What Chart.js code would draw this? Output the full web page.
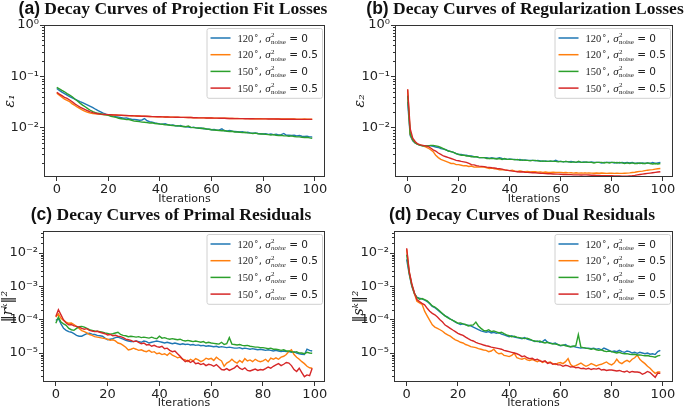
<!DOCTYPE html>
<html>
<head>
<meta charset="utf-8">
<script src="https://cdn.jsdelivr.net/npm/chart.js@4.4.1/dist/chart.umd.min.js"></script>
<style>
  html, body { margin: 0; padding: 0; background: #fff; }
  #page { position: relative; width: 685px; height: 407px; overflow: hidden; }
  canvas { position: absolute; }
  .title { position: absolute; white-space: nowrap; transform: translateX(-50%);
           font: bold 17.5px "Liberation Serif"; line-height: 18px; color: #111; z-index: 2; }
  .title .tag { font-family: "Liberation Sans"; }
</style>
</head>
<body>
<div id="page">
  <div class="title" style="left:173px;top:-1px"><span class="tag">(a)</span> Decay Curves of Projection Fit Losses</div>
  <div class="title" style="left:525px;top:-1px"><span class="tag">(b)</span> Decay Curves of Regularization Losses</div>
  <div class="title" style="left:171px;top:205px"><span class="tag">(c)</span> Decay Curves of Primal Residuals</div>
  <div class="title" style="left:522px;top:205px"><span class="tag">(d)</span> Decay Curves of Dual Residuals</div>
  <canvas id="chart-a" width="342" height="206" style="left:0;top:0"></canvas>
  <canvas id="chart-b" width="343" height="206" style="left:342px;top:0"></canvas>
  <canvas id="chart-c" width="342" height="207" style="left:0;top:203px"></canvas>
  <canvas id="chart-d" width="343" height="207" style="left:342px;top:203px"></canvas>
</div>
<script>
// iterations 0..99
const iterations = Array.from({length: 100}, (_, i) => i)
const xTicks = [0, 20, 40, 60, 80, 100]

// legend entries: angle and noise variance
const angles = ['120', '120', '150', '150']
const noises = ['0', '0.5', '0', '0.5']
const colors = ['#1f77b4', '#ff7f0e', '#2ca02c', '#d62728']

// (a) projection fit losses
const fit120_0 = [0.058,0.053,0.049,0.046,0.043,0.040,0.038,0.036,0.034,0.032,
  0.0306,0.029,0.0275,0.026,0.0245,0.0228,0.0215,0.0203,0.0192,0.0183,
  0.0177,0.0172,0.0168,0.0163,0.0160,0.0156,0.0152,0.0155,0.0149,0.0146,
  0.0145,0.0142,0.0139,0.0141,0.0150,0.0136,0.0131,0.0128,0.0124,0.0121,
  0.0118,0.0117,0.0119,0.0114,0.0112,0.0113,0.0109,0.0107,0.0110,0.0105,
  0.0104,0.0103,0.0100,0.0102,0.0099,0.0097,0.0098,0.0095,0.0094,0.0093,
  0.0091,0.0092,0.0089,0.0090,0.0095,0.0087,0.0086,0.0088,0.0085,0.0084,
  0.0083,0.0082,0.0083,0.0080,0.0081,0.0079,0.0078,0.0079,0.0077,0.0076,
  0.0075,0.0076,0.0074,0.0075,0.0073,0.0074,0.0072,0.0073,0.0077,0.0071,
  0.0071,0.0070,0.0071,0.0069,0.0070,0.0068,0.0067,0.0068,0.0066,0.0066]
const fit120_05 = [0.047,0.043,0.039,0.036,0.034,0.032,0.029,0.027,0.025,0.0235,
  0.022,0.0208,0.0199,0.0192,0.0188,0.0185,0.0183,0.0181,0.0180,0.0179,
  0.0178,0.0177,0.0176,0.0175,0.0174,0.0173,0.0172,0.0171,0.0170,0.0170,
  0.0169,0.0168,0.0167,0.0167,0.0166,0.0165,0.0165,0.0164,0.0163,0.0163,
  0.0162,0.0162,0.0161,0.0161,0.0160,0.0160,0.0159,0.0159,0.0158,0.0158,
  0.0157,0.0157,0.0157,0.0156,0.0156,0.0155,0.0155,0.0155,0.0154,0.0154,
  0.0154,0.0153,0.0153,0.0153,0.0152,0.0152,0.0152,0.0151,0.0151,0.0151,
  0.0151,0.0150,0.0150,0.0150,0.0150,0.0149,0.0149,0.0149,0.0149,0.0149,
  0.0148,0.0148,0.0148,0.0148,0.0148,0.0147,0.0147,0.0147,0.0147,0.0147,
  0.0148,0.0147,0.0147,0.0146,0.0146,0.0146,0.0147,0.0146,0.0146,0.0146]
const fit150_0 = [0.061,0.057,0.053,0.050,0.046,0.043,0.040,0.036,0.033,0.030,
  0.0275,0.0255,0.0235,0.0218,0.0205,0.0196,0.0190,0.0186,0.0180,0.0178,
  0.0174,0.0166,0.0162,0.0158,0.0152,0.0149,0.0146,0.0143,0.0144,0.0139,
  0.0134,0.0133,0.0131,0.0128,0.0127,0.0125,0.0123,0.0124,0.0120,0.0119,
  0.0117,0.0116,0.0113,0.0114,0.0111,0.0110,0.0108,0.0109,0.0106,0.0105,
  0.0104,0.0107,0.0101,0.0100,0.0099,0.0098,0.0096,0.0097,0.0094,0.0093,
  0.0091,0.0090,0.0089,0.0088,0.0087,0.0088,0.0085,0.0084,0.0085,0.0082,
  0.0082,0.0081,0.0080,0.0081,0.0079,0.0078,0.0077,0.0078,0.0076,0.0075,
  0.0075,0.0074,0.0073,0.0072,0.0073,0.0071,0.0070,0.0071,0.0069,0.0069,
  0.0068,0.0069,0.0067,0.0066,0.0066,0.0065,0.0064,0.0065,0.0063,0.0062]
const fit150_05 = [0.049,0.045,0.042,0.039,0.037,0.0345,0.032,0.029,0.027,0.025,
  0.0238,0.0225,0.0213,0.0203,0.0196,0.0190,0.0186,0.0183,0.0181,0.0180,
  0.0179,0.0178,0.0177,0.0176,0.0175,0.0174,0.0173,0.0172,0.0171,0.0170,
  0.0169,0.0168,0.0168,0.0167,0.0166,0.0166,0.0165,0.0164,0.0164,0.0163,
  0.0163,0.0162,0.0161,0.0161,0.0160,0.0160,0.0159,0.0159,0.0158,0.0158,
  0.0158,0.0157,0.0157,0.0156,0.0156,0.0155,0.0155,0.0155,0.0154,0.0154,
  0.0154,0.0153,0.0153,0.0152,0.0152,0.0152,0.0151,0.0151,0.0151,0.0150,
  0.0150,0.0150,0.0150,0.0149,0.0149,0.0149,0.0149,0.0148,0.0148,0.0148,
  0.0148,0.0148,0.0147,0.0147,0.0147,0.0147,0.0147,0.0146,0.0146,0.0146,
  0.0146,0.0146,0.0146,0.0145,0.0145,0.0145,0.0145,0.0145,0.0145,0.0145]

// (b) regularization losses
const reg120_0 = [0.032,0.0070,0.0055,0.0050,0.0047,0.0045,0.0044,0.0044,0.0044,0.0044,
  0.0043,0.0042,0.0041,0.0039,0.0038,0.0037,0.0035,0.0034,0.0033,0.0031,
  0.0030,0.0030,0.0029,0.0029,0.0028,0.0028,0.0027,0.0027,0.0026,0.0026,
  0.0026,0.0026,0.0025,0.0026,0.0025,0.0025,0.0026,0.0025,0.00245,0.0024,
  0.00245,0.0024,0.0024,0.00235,0.0024,0.0023,0.00235,0.0023,0.0023,0.0023,
  0.00225,0.0023,0.00225,0.0022,0.00225,0.0022,0.0022,0.0022,0.0023,0.0022,
  0.0022,0.00215,0.0022,0.00215,0.0022,0.00215,0.0021,0.00215,0.0021,0.00215,
  0.0021,0.0021,0.00215,0.0021,0.0021,0.0021,0.00205,0.0021,0.0021,0.0021,
  0.0021,0.00205,0.0021,0.00205,0.0021,0.00205,0.0021,0.00205,0.0021,0.0020,
  0.00205,0.0020,0.00205,0.0020,0.00205,0.0020,0.0021,0.0020,0.00205,0.0021]
const reg120_05 = [0.055,0.0075,0.0058,0.0051,0.0047,0.0046,0.0044,0.0042,0.0040,0.0037,
  0.0034,0.0029,0.0026,0.0024,0.0023,0.0022,0.0021,0.0020,0.0020,0.0019,
  0.0019,0.00185,0.0018,0.0018,0.00175,0.00178,0.0017,0.00172,0.0017,0.0017,
  0.0017,0.00165,0.0016,0.00162,0.00158,0.00155,0.0015,0.00152,0.0015,0.00147,
  0.00145,0.00148,0.00142,0.0014,0.00143,0.0014,0.00138,0.0014,0.00137,0.00138,
  0.00138,0.00135,0.00137,0.00134,0.00136,0.00134,0.00133,0.00135,0.00133,0.00134,
  0.00134,0.00132,0.00133,0.00131,0.00132,0.0013,0.00132,0.0013,0.00131,0.0013,
  0.0013,0.00131,0.0013,0.00129,0.0013,0.00129,0.0013,0.00129,0.00128,0.00129,
  0.00129,0.00128,0.00129,0.00128,0.00128,0.00129,0.0013,0.00131,0.00133,0.00135,
  0.00138,0.0014,0.00142,0.00145,0.00148,0.0015,0.00152,0.00155,0.00158,0.0016]
const reg150_0 = [0.042,0.0075,0.0057,0.0050,0.0047,0.0045,0.0044,0.0044,0.0044,0.0045,
  0.0045,0.0044,0.0043,0.0041,0.0039,0.0037,0.0035,0.0034,0.0033,0.0031,
  0.0030,0.0029,0.0029,0.0028,0.0028,0.0027,0.0027,0.0027,0.0026,0.0026,
  0.0026,0.0025,0.0025,0.0025,0.0025,0.00245,0.0025,0.0024,0.0025,0.0024,
  0.0024,0.0024,0.00235,0.0024,0.0023,0.00235,0.0023,0.0023,0.00225,0.0023,
  0.0023,0.00225,0.0022,0.00225,0.0022,0.0022,0.00225,0.0022,0.0022,0.00215,
  0.0022,0.00215,0.0022,0.00215,0.0021,0.00215,0.0021,0.0022,0.0021,0.0021,
  0.00215,0.0021,0.0021,0.00205,0.0021,0.0021,0.0021,0.00205,0.0021,0.00205,
  0.0021,0.0021,0.00205,0.0021,0.00205,0.0020,0.00205,0.0020,0.00205,0.0020,
  0.0020,0.00205,0.0020,0.0020,0.00205,0.0020,0.00195,0.0020,0.00195,0.0020]
const reg150_05 = [0.056,0.0095,0.0062,0.0053,0.0048,0.0046,0.0045,0.0044,0.0043,0.0040,
  0.0037,0.0035,0.0032,0.0030,0.0028,0.0027,0.0026,0.0025,0.0024,0.0023,
  0.00226,0.0022,0.00215,0.0021,0.0020,0.0019,0.00188,0.00182,0.00178,0.00176,
  0.00174,0.0017,0.00168,0.00165,0.00163,0.0016,0.00158,0.00155,0.0015,0.00148,
  0.00145,0.00142,0.0014,0.00138,0.00136,0.00138,0.00135,0.00134,0.00133,0.00132,
  0.00132,0.0013,0.00129,0.00128,0.00127,0.00126,0.00126,0.00125,0.00124,0.00124,
  0.00123,0.00122,0.00122,0.00121,0.00121,0.0012,0.0012,0.0012,0.00119,0.0012,
  0.0012,0.00119,0.00118,0.00118,0.00117,0.00117,0.00116,0.00116,0.00115,0.00115,
  0.00115,0.00114,0.00114,0.00114,0.00113,0.00113,0.00113,0.00114,0.00115,0.00117,
  0.0012,0.00122,0.00124,0.00126,0.00128,0.0013,0.00132,0.00134,0.00136,0.00138]

// (c) primal residuals
const primal120_0 = [9.5e-5,1.1e-4,7.5e-5,5.5e-5,4.8e-5,4.4e-5,4.2e-5,3.8e-5,3.4e-5,3.2e-5,
  3.2e-5,3.5e-5,3.8e-5,3.9e-5,3.7e-5,3.6e-5,3.4e-5,3.3e-5,3.2e-5,2.8e-5,
  2.5e-5,2.6e-5,2.7e-5,2.9e-5,3.0e-5,2.8e-5,2.6e-5,2.4e-5,2.3e-5,2.2e-5,
  2.2e-5,2.3e-5,2.2e-5,2.1e-5,2.3e-5,2.2e-5,2.0e-5,2.1e-5,2.2e-5,2.3e-5,
  2.2e-5,2.1e-5,2.0e-5,2.1e-5,2.0e-5,1.9e-5,2.0e-5,1.9e-5,1.8e-5,1.9e-5,
  1.8e-5,1.85e-5,1.75e-5,1.8e-5,1.7e-5,1.75e-5,1.65e-5,1.7e-5,1.6e-5,1.65e-5,
  1.6e-5,1.55e-5,1.6e-5,1.5e-5,1.55e-5,1.5e-5,1.45e-5,1.5e-5,1.45e-5,1.4e-5,
  1.4e-5,1.45e-5,1.35e-5,1.4e-5,1.35e-5,1.3e-5,1.35e-5,1.3e-5,1.25e-5,1.3e-5,
  1.25e-5,1.2e-5,1.25e-5,1.2e-5,1.15e-5,1.2e-5,1.15e-5,1.1e-5,1.15e-5,1.1e-5,
  1.1e-5,1.05e-5,1.1e-5,1.0e-5,9.5e-6,9.2e-6,9.0e-6,1.3e-5,1.2e-5,1.15e-5]
const primal120_05 = [1.2e-4,1.5e-4,1.1e-4,9.5e-5,8.5e-5,7.8e-5,8.0e-5,7.2e-5,6.2e-5,5.5e-5,
  4.7e-5,4.4e-5,4.0e-5,3.6e-5,3.4e-5,3.1e-5,3.0e-5,2.9e-5,2.8e-5,2.7e-5,
  2.6e-5,2.4e-5,2.5e-5,2.3e-5,2.0e-5,1.9e-5,1.7e-5,1.5e-5,1.23e-5,1.3e-5,
  1.4e-5,1.3e-5,1.2e-5,1.25e-5,1.15e-5,1.1e-5,1.2e-5,1.05e-5,1.1e-5,9.5e-6,
  1.0e-5,9.0e-6,9.5e-6,8.5e-6,1.0e-5,8.7e-6,8.0e-6,7.2e-6,7.5e-6,6.5e-6,
  6.2e-6,5.5e-6,6.5e-6,5.8e-6,6.8e-6,6.2e-6,5.5e-6,6.0e-6,7.0e-6,6.5e-6,
  6.9e-6,6.0e-6,7.5e-6,6.5e-6,5.8e-6,4.0e-6,5.0e-6,5.5e-6,6.5e-6,5.5e-6,
  5.0e-6,6.0e-6,5.2e-6,6.8e-6,5.8e-6,6.2e-6,5.5e-6,6.5e-6,5.8e-6,5.5e-6,
  5.8e-6,6.5e-6,5.5e-6,7.0e-6,6.5e-6,7.2e-6,6.5e-6,7.5e-6,8.0e-6,9.0e-6,
  1.1e-5,1.25e-5,9.0e-6,7.5e-6,6.5e-6,5.5e-6,4.8e-6,4.0e-6,3.6e-6,3.5e-6]
const primal150_0 = [7.8e-5,1.2e-4,8.5e-5,7.5e-5,6.8e-5,5.5e-5,5.0e-5,4.8e-5,5.5e-5,6.2e-5,
  6.3e-5,6.0e-5,5.5e-5,5.0e-5,4.8e-5,4.6e-5,4.5e-5,4.4e-5,4.2e-5,4.0e-5,
  3.9e-5,3.7e-5,3.8e-5,4.0e-5,4.2e-5,3.6e-5,3.4e-5,3.3e-5,3.1e-5,3.2e-5,
  3.1e-5,3.0e-5,3.1e-5,2.9e-5,3.0e-5,2.9e-5,2.8e-5,3.0e-5,2.8e-5,2.7e-5,
  3.2e-5,2.8e-5,2.9e-5,2.7e-5,2.6e-5,2.7e-5,2.6e-5,2.5e-5,2.6e-5,2.4e-5,
  2.3e-5,2.4e-5,2.3e-5,2.2e-5,2.3e-5,2.2e-5,2.1e-5,2.2e-5,2.0e-5,2.1e-5,
  2.0e-5,1.95e-5,1.9e-5,1.85e-5,2.1e-5,1.8e-5,1.9e-5,2.9e-5,1.85e-5,1.8e-5,
  1.75e-5,1.8e-5,1.7e-5,1.65e-5,1.7e-5,1.6e-5,1.55e-5,1.5e-5,1.5e-5,1.45e-5,
  1.45e-5,1.4e-5,1.35e-5,1.4e-5,1.3e-5,1.3e-5,1.25e-5,1.2e-5,1.25e-5,1.15e-5,
  1.15e-5,1.1e-5,1.05e-5,1.1e-5,1.0e-5,1.0e-5,9.5e-6,1.05e-5,1.0e-5,9.8e-6]
const primal150_05 = [1.25e-4,2.0e-4,1.4e-4,9.8e-5,8.0e-5,7.0e-5,7.2e-5,6.5e-5,6.3e-5,6.0e-5,
  5.5e-5,5.2e-5,5.4e-5,4.8e-5,4.6e-5,4.4e-5,4.5e-5,4.2e-5,4.0e-5,3.8e-5,
  3.5e-5,3.6e-5,3.3e-5,3.4e-5,3.2e-5,3.1e-5,2.9e-5,2.6e-5,2.5e-5,2.4e-5,
  2.2e-5,2.3e-5,2.1e-5,1.9e-5,2.0e-5,1.75e-5,1.8e-5,1.6e-5,1.7e-5,1.55e-5,
  1.5e-5,1.6e-5,1.35e-5,1.4e-5,1.2e-5,1.1e-5,1.15e-5,9.5e-6,8.0e-6,6.5e-6,
  5.5e-6,6.0e-6,5.2e-6,5.8e-6,4.8e-6,5.0e-6,4.5e-6,4.8e-6,4.2e-6,4.6e-6,
  4.4e-6,4.0e-6,4.5e-6,3.8e-6,3.2e-6,3.1e-6,3.4e-6,3.0e-6,3.3e-6,3.6e-6,
  4.2e-6,3.5e-6,3.2e-6,3.6e-6,3.0e-6,2.9e-6,3.1e-6,3.3e-6,3.0e-6,3.2e-6,
  3.1e-6,3.4e-6,3.8e-6,3.5e-6,4.0e-6,4.4e-6,4.8e-6,4.2e-6,4.6e-6,5.2e-6,
  5.0e-6,4.2e-6,3.2e-6,2.8e-6,3.5e-6,2.6e-6,1.95e-6,2.2e-6,2.1e-6,3.5e-6]

// (d) dual residuals
const dual120_0 = [6.5e-3,2.3e-3,1.0e-3,6.0e-4,4.7e-4,4.4e-4,4.2e-4,3.9e-4,3.5e-4,3.0e-4,
  2.5e-4,2.3e-4,2.0e-4,1.7e-4,1.5e-4,1.3e-4,1.2e-4,1.05e-4,9.5e-5,8.5e-5,
  7.8e-5,7.2e-5,7.5e-5,7.0e-5,6.8e-5,6.5e-5,6.0e-5,5.5e-5,5.0e-5,4.6e-5,
  4.4e-5,4.2e-5,4.4e-5,4.0e-5,4.2e-5,3.9e-5,4.1e-5,3.7e-5,3.5e-5,3.3e-5,
  3.1e-5,3.3e-5,3.0e-5,2.9e-5,2.8e-5,2.7e-5,2.9e-5,2.6e-5,2.5e-5,2.4e-5,
  2.2e-5,2.3e-5,2.1e-5,2.2e-5,2.5e-5,2.1e-5,2.0e-5,1.9e-5,2.0e-5,1.8e-5,
  1.65e-5,1.7e-5,1.8e-5,1.6e-5,1.55e-5,1.6e-5,1.5e-5,1.45e-5,1.4e-5,1.45e-5,
  1.38e-5,1.4e-5,1.35e-5,1.4e-5,1.3e-5,1.35e-5,1.25e-5,1.4e-5,1.3e-5,1.2e-5,
  1.1e-5,1.15e-5,1.1e-5,1.2e-5,1.1e-5,1.05e-5,1.15e-5,1.1e-5,1.0e-5,1.05e-5,
  9.8e-6,1.05e-5,1.0e-5,9.5e-6,1.0e-5,9.2e-6,9.5e-6,9.0e-6,1.1e-5,1.2e-5]
const dual120_05 = [1.3e-2,2.6e-3,1.1e-3,6.0e-4,3.6e-4,3.2e-4,2.9e-4,1.8e-4,1.3e-4,9.5e-5,
  7.0e-5,6.0e-5,5.5e-5,5.0e-5,4.5e-5,3.9e-5,3.5e-5,3.2e-5,2.8e-5,2.5e-5,
  2.3e-5,2.1e-5,2.0e-5,1.8e-5,1.7e-5,1.55e-5,1.5e-5,1.45e-5,1.35e-5,1.3e-5,
  1.23e-5,1.2e-5,1.1e-5,1.15e-5,1.3e-5,1.05e-5,9.5e-6,9.8e-6,8.5e-6,8.2e-6,
  7.8e-6,8.5e-6,9.8e-6,7.2e-6,6.8e-6,6.5e-6,7.0e-6,6.2e-6,6.0e-6,6.4e-6,
  5.9e-6,5.5e-6,6.0e-6,5.2e-6,5.6e-6,5.1e-6,5.4e-6,4.8e-6,4.5e-6,5.0e-6,
  5.2e-6,4.8e-6,5.5e-6,6.8e-6,4.5e-6,3.9e-6,4.2e-6,4.6e-6,5.0e-6,4.4e-6,
  4.0e-6,4.3e-6,4.8e-6,4.5e-6,4.1e-6,4.4e-6,4.6e-6,5.0e-6,5.4e-6,4.7e-6,
  4.4e-6,5.0e-6,6.5e-6,5.2e-6,4.8e-6,5.5e-6,6.0e-6,5.4e-6,6.5e-6,7.2e-6,
  8.7e-6,6.5e-6,5.5e-6,4.8e-6,4.0e-6,3.5e-6,2.9e-6,2.45e-6,2.7e-6,2.7e-6]
const dual150_0 = [9.0e-3,2.5e-3,1.1e-3,6.2e-4,4.7e-4,4.1e-4,4.3e-4,4.0e-4,3.7e-4,3.1e-4,
  2.6e-4,2.4e-4,2.1e-4,1.8e-4,1.5e-4,1.3e-4,1.15e-4,1.05e-4,9.5e-5,8.8e-5,
  7.8e-5,8.0e-5,7.5e-5,7.2e-5,6.5e-5,6.8e-5,7.0e-5,8.5e-5,6.5e-5,5.5e-5,
  4.8e-5,4.6e-5,5.0e-5,4.4e-5,4.6e-5,4.3e-5,4.0e-5,4.2e-5,3.8e-5,3.5e-5,
  3.3e-5,3.1e-5,3.2e-5,3.0e-5,2.9e-5,2.8e-5,2.7e-5,2.8e-5,2.6e-5,2.4e-5,
  2.3e-5,2.2e-5,2.3e-5,2.1e-5,2.0e-5,2.1e-5,1.95e-5,1.9e-5,1.85e-5,1.8e-5,
  1.7e-5,1.75e-5,1.65e-5,1.6e-5,1.55e-5,1.6e-5,1.65e-5,3.6e-5,1.5e-5,1.45e-5,
  1.4e-5,1.35e-5,1.3e-5,1.35e-5,1.25e-5,1.2e-5,1.25e-5,1.15e-5,1.1e-5,1.15e-5,
  1.1e-5,1.05e-5,1.0e-5,1.05e-5,9.8e-6,9.5e-6,9.6e-6,9.2e-6,9.0e-6,9.2e-6,
  8.7e-6,8.8e-6,8.5e-6,8.3e-6,8.4e-6,8.0e-6,7.8e-6,7.5e-6,8.2e-6,8.5e-6]
const dual150_05 = [1.4e-2,2.8e-3,1.2e-3,6.5e-4,4.0e-4,3.5e-4,3.1e-4,2.8e-4,2.2e-4,1.8e-4,
  1.55e-4,1.4e-4,1.2e-4,1.0e-4,8.5e-5,6.9e-5,6.2e-5,5.5e-5,4.9e-5,4.4e-5,
  3.9e-5,3.6e-5,3.4e-5,3.0e-5,2.7e-5,2.45e-5,2.3e-5,2.1e-5,1.95e-5,1.85e-5,
  1.74e-5,1.65e-5,1.6e-5,1.5e-5,1.45e-5,1.4e-5,1.35e-5,1.3e-5,1.2e-5,1.15e-5,
  1.1e-5,1.05e-5,1.0e-5,9.5e-6,8.8e-6,7.8e-6,8.2e-6,7.2e-6,6.8e-6,7.0e-6,
  6.2e-6,6.5e-6,5.8e-6,5.5e-6,5.8e-6,4.9e-6,5.2e-6,4.6e-6,4.8e-6,4.4e-6,
  4.4e-6,4.0e-6,4.3e-6,4.1e-6,3.8e-6,3.9e-6,3.6e-6,3.7e-6,3.4e-6,3.5e-6,
  3.3e-6,3.5e-6,3.2e-6,3.4e-6,3.3e-6,3.5e-6,3.1e-6,3.2e-6,3.0e-6,3.1e-6,
  3.1e-6,3.0e-6,2.9e-6,3.0e-6,2.8e-6,2.7e-6,2.9e-6,2.6e-6,2.8e-6,2.7e-6,
  2.7e-6,2.6e-6,2.3e-6,2.5e-6,2.8e-6,2.6e-6,2.2e-6,1.86e-6,2.5e-6,2.45e-6]

// major y ticks and their labels
const lossTicks = [1e-2, 1e-1, 1]
const lossTickLabels = ['10⁻²', '10⁻¹', '10⁰']
const residualTicks = [1e-5, 1e-4, 1e-3, 1e-2]
const residualTickLabels = ['10⁻⁵', '10⁻⁴', '10⁻³', '10⁻²']

// frame + minor log ticks
const framePlugin = {
  id: 'frame',
  afterDraw(chart) {
    const {ctx, chartArea: a} = chart
    const y = chart.scales.y
    ctx.save()
    ctx.strokeStyle = '#333'
    ctx.lineWidth = 1
    ctx.beginPath()
    const lo = Math.floor(Math.log10(y.min)), hi = Math.ceil(Math.log10(y.max))
    for (let e = lo; e <= hi; e++) {
      for (let m = 2; m <= 9; m++) {
        const v = m * Math.pow(10, e)
        if (v < y.min || v > y.max) continue
        const py = Math.round(y.getPixelForValue(v)) + 0.5
        ctx.moveTo(a.left - 2, py)
        ctx.lineTo(a.left, py)
      }
    }
    ctx.stroke()
    ctx.strokeRect(Math.round(a.left) + 0.5, Math.round(a.top) + 0.5,
      Math.round(a.width) - 1, Math.round(a.height) - 1)
    ctx.restore()
  }
}

// legend with sub/superscripts like matplotlib mathtext
function drawLabel(ctx, x, y, angle, noise, italicSub, dry) {
  const start = x
  const put = (t, font, dx, dy) => {
    ctx.font = font
    if (!dry) ctx.fillText(t, x + dx, y + dy)
    return ctx.measureText(t).width
  }
  x += put(angle, '10.5px "Liberation Serif"', 0, 0)
  x += put('°', '8px "DejaVu Sans"', 1, -1) + 1.5
  x += put(', ', '10px "DejaVu Sans"', 0, 0)
  x += put('σ', 'italic 11px "Liberation Serif"', 0, 0) + 0.5
  const w1 = put('2', '7px "Liberation Serif"', 0, -4.5)
  const w2 = put('noise', (italicSub ? 'italic ' : '') + '7px "Liberation Serif"', 0, 2.5)
  x += Math.max(w1, w2)
  x += put(' = ' + noise, '10.5px "DejaVu Sans"', 0, 0)
  return x - start
}

const legendPlugin = {
  id: 'mathLegend',
  afterDraw(chart, args, opts) {
    const {ctx, chartArea: a} = chart
    const rowH = 16.7
    ctx.save()
    let textW = 0
    for (let i = 0; i < angles.length; i++) {
      textW = Math.max(textW, drawLabel(ctx, 0, 0, angles[i], noises[i], opts.italicSub, true))
    }
    const w = 4 + 20 + 7 + textW + 4
    const h = rowH * angles.length + 3
    const bx = a.right - 3 - w, by = a.top + 3
    ctx.beginPath()
    ctx.roundRect(bx + 0.5, by + 0.5, w, h, 2)
    ctx.fillStyle = 'rgba(255,255,255,0.8)'
    ctx.fill()
    ctx.strokeStyle = '#d0d0d0'
    ctx.lineWidth = 1
    ctx.stroke()
    for (let i = 0; i < angles.length; i++) {
      const cy = by + 10 + i * rowH
      ctx.strokeStyle = colors[i]
      ctx.lineWidth = 1.5
      ctx.beginPath()
      ctx.moveTo(bx + 4, cy)
      ctx.lineTo(bx + 24, cy)
      ctx.stroke()
      ctx.fillStyle = '#222'
      ctx.textBaseline = 'alphabetic'
      drawLabel(ctx, bx + 31, cy + 3.5, angles[i], noises[i], opts.italicSub, false)
    }
    ctx.restore()
  }
}

function makePanel(id, series, yTitle, yMin, yMax, majors, majorLabels, box) {
  const datasets = series.map((s, i) => ({
    label: angles[i] + '°, σ²noise = ' + noises[i],
    data: s,
    borderColor: colors[i],
    borderWidth: 1.4,
    pointRadius: 0,
    fill: false,
    tension: 0,
    order: 4 - i
  }))
  return new Chart(document.getElementById(id), {
    type: 'line',
    data: {labels: iterations, datasets: datasets},
    plugins: [framePlugin, legendPlugin],
    options: {
      responsive: false,
      animation: false,
      devicePixelRatio: 1,
      layout: {padding: {top: box.top, right: box.right, bottom: 0, left: 0}},
      plugins: {
        legend: {display: false},
        tooltip: {enabled: false},
        mathLegend: {italicSub: box.italicSub}
      },
      scales: {
        x: {
          type: 'linear',
          min: -4.95,
          max: 103.95,
          afterBuildTicks: (scale) => { scale.ticks = xTicks.map(v => ({value: v})) },
          afterFit: (scale) => { scale.height = box.xh },
          grid: {drawOnChartArea: false, tickLength: 4, color: '#333'},
          border: {display: false},
          ticks: {font: {family: 'DejaVu Sans', size: 13}, color: '#222', padding: 1, maxRotation: 0},
          title: {display: true, text: 'Iterations', font: {family: 'DejaVu Sans', size: 11},
                  color: '#222', padding: {top: 0, bottom: 0}}
        },
        y: {
          type: 'logarithmic',
          min: yMin,
          max: yMax,
          afterBuildTicks: (scale) => { scale.ticks = majors.map(v => ({value: v})) },
          afterFit: (scale) => { scale.width = box.yw },
          grid: {drawOnChartArea: false, tickLength: 4, color: '#333'},
          border: {display: false},
          ticks: {
            font: {family: 'DejaVu Sans', size: 13}, color: '#222', padding: 1,
            callback: (v) => majorLabels[majors.indexOf(v)]
          },
          title: {display: true, text: yTitle, font: {family: 'DejaVu Serif', style: 'italic', size: 14},
                  color: '#222', padding: {top: box.tp, bottom: 0}}
        }
      }
    }
  })
}

makePanel('chart-a', [fit120_0, fit120_05, fit150_0, fit150_05], 'ε₁', 1.09e-3, 1,
  lossTicks, lossTickLabels, {top: 25, right: 17, xh: 29, yw: 44, tp: 2, italicSub: false})
makePanel('chart-b', [reg120_0, reg120_05, reg150_0, reg150_05], 'ε₂', 1.09e-3, 1,
  lossTicks, lossTickLabels, {top: 25, right: 12, xh: 29, yw: 53, tp: 10, italicSub: false})
makePanel('chart-c', [primal120_0, primal120_05, primal150_0, primal150_05], '‖rᵏ‖²', 1.35e-6, 4.6e-2,
  residualTicks, residualTickLabels, {top: 28, right: 17, xh: 28, yw: 43, tp: 0, italicSub: true})
makePanel('chart-d', [dual120_0, dual120_05, dual150_0, dual150_05], '‖sᵏ‖²', 1.35e-6, 4.6e-2,
  residualTicks, residualTickLabels, {top: 28, right: 12, xh: 28, yw: 52, tp: 9, italicSub: false})
</script>
</body>
</html>
